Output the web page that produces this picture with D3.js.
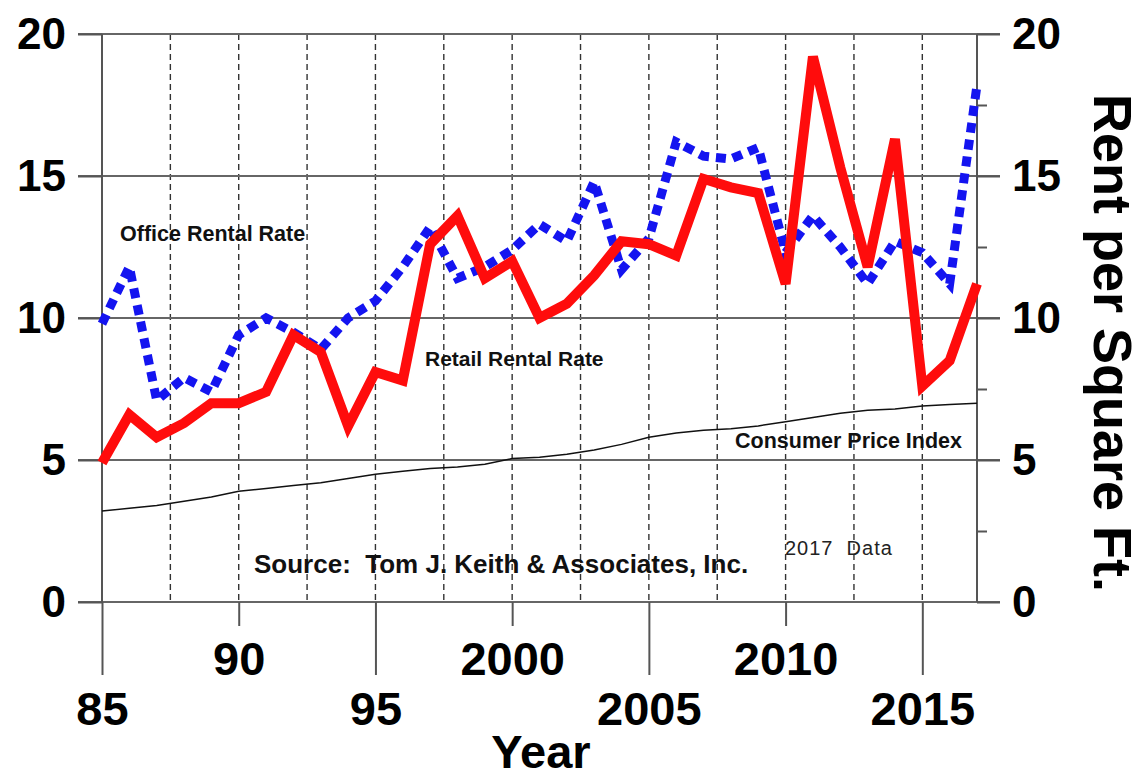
<!DOCTYPE html>
<html>
<head>
<meta charset="utf-8">
<script src="https://cdn.jsdelivr.net/npm/d3@7"></script>
<style>
  body { margin: 0; background: #fff; }
  svg { display: block; font-family: "Liberation Sans", Arial, sans-serif; }
  .tick text { font-weight: bold; fill: #000; }
  .note { font-weight: bold; fill: #111; }
</style>
</head>
<body>
<div id="chart"></div>
<script>
// data
const years = [1985, 1986, 1987, 1988, 1989, 1990, 1991, 1992, 1993, 1994, 1995, 1996, 1997, 1998, 1999, 2000,
               2001, 2002, 2003, 2004, 2005, 2006, 2007, 2008, 2009, 2010, 2011, 2012, 2013, 2014, 2015, 2016, 2017];
const retail = [4.9, 6.6, 5.8, 6.3, 7.0, 7.0, 7.4, 9.4, 8.8, 6.2, 8.1, 7.8, 12.6, 13.6, 11.4, 12.0,
                10.0, 10.5, 11.5, 12.7, 12.6, 12.2, 14.9, 14.6, 14.4, 11.2, 19.2, 15.3, 11.8, 16.3, 7.6, 8.5, 11.2];
const office = [9.8, 11.8, 7.1, 7.9, 7.4, 9.4, 10.0, 9.5, 8.9, 10.0, 10.6, 11.8, 13.2, 11.4, 11.8, 12.4,
                13.3, 12.7, 14.8, 11.7, 12.8, 16.2, 15.7, 15.6, 16.0, 12.3, 13.6, 12.5, 11.2, 12.7, 12.3, 11.2, 18.2];
const cpi = [3.2, 3.3, 3.4, 3.55, 3.7, 3.9, 4.0, 4.1, 4.2, 4.35, 4.5, 4.6, 4.7, 4.75, 4.85, 5.05,
             5.1, 5.2, 5.35, 5.55, 5.8, 5.95, 6.05, 6.1, 6.2, 6.35, 6.5, 6.65, 6.75, 6.8, 6.9, 6.95, 7.0];

const yTicks = [0, 5, 10, 15, 20];
const yMinor = [2.5, 7.5, 12.5, 17.5];
const xLong = [1985, 1995, 2005, 2015];
const xShort = [1990, 2000, 2010];
const dashYears = [1987.5, 1990, 1992.5, 1995, 1997.5, 2000, 2002.5, 2005, 2007.5, 2010, 2012.5, 2015];

let width = 1144,
    height = 778;
let svg = d3.select("div#chart").append("svg")
            .attr("width", width)
            .attr("height", height);

let x = d3.scaleLinear().domain([1985, 2017]).range([102, 977]);
let y = d3.scaleLinear().domain([0, 20]).range([602, 34]);
let yearLabel = function(d) { return d < 2000 ? String(d - 1900) : String(d); };

// dashed vertical grid
svg.append("g").selectAll("line")
  .data(dashYears)
  .enter().append("line")
  .attr("x1", d => x(d)).attr("x2", d => x(d))
  .attr("y1", y(20)).attr("y2", y(0))
  .attr("stroke", "#333")
  .attr("stroke-width", 1.4)
  .attr("stroke-dasharray", "6,4");

// horizontal grid
svg.append("g").selectAll("line")
  .data(yTicks)
  .enter().append("line")
  .attr("x1", 78).attr("x2", 1000)
  .attr("y1", d => y(d)).attr("y2", d => y(d))
  .attr("stroke", "#666")
  .attr("stroke-width", 2);

// frame sides
svg.append("line").attr("x1", x(1985)).attr("x2", x(1985)).attr("y1", y(20)).attr("y2", y(0))
  .attr("stroke", "#555").attr("stroke-width", 2);
svg.append("line").attr("x1", x(2017)).attr("x2", x(2017)).attr("y1", y(20)).attr("y2", y(0))
  .attr("stroke", "#555").attr("stroke-width", 2);

// axes
let leftAxis = svg.append("g").attr("transform", "translate(" + x(1985) + ",0)")
  .call(d3.axisLeft(y).tickValues(yTicks).tickSize(24).tickPadding(12));
let rightAxis = svg.append("g").attr("transform", "translate(" + x(2017) + ",0)")
  .call(d3.axisRight(y).tickValues(yTicks).tickSize(23).tickPadding(12));
let rightMinor = svg.append("g").attr("transform", "translate(" + x(2017) + ",0)")
  .call(d3.axisRight(y).tickValues(yMinor).tickSize(10).tickFormat(""));
let bottomLong = svg.append("g").attr("transform", "translate(0," + y(0) + ")")
  .call(d3.axisBottom(x).tickValues(xLong).tickSize(73).tickPadding(17).tickFormat(yearLabel));
let bottomShort = svg.append("g").attr("transform", "translate(0," + y(0) + ")")
  .call(d3.axisBottom(x).tickValues(xShort).tickSize(24).tickPadding(16).tickFormat(yearLabel));

[leftAxis, rightAxis, rightMinor, bottomLong, bottomShort].forEach(function(g) {
  g.select(".domain").remove();
  g.selectAll(".tick line").attr("stroke", "#555").attr("stroke-width", 2);
});
leftAxis.selectAll("text").style("font-size", "44px");
rightAxis.selectAll("text").style("font-size", "44px");
bottomLong.selectAll("text").style("font-size", "47px");
bottomShort.selectAll("text").style("font-size", "47px");

// series
let line = function(values) {
  return d3.line()
    .x((d, i) => x(years[i]))
    .y(d => y(d))(values);
};

svg.append("path")
  .attr("d", line(cpi))
  .attr("fill", "none")
  .attr("stroke", "#111")
  .attr("stroke-width", 1.5);

svg.append("path")
  .attr("d", line(office))
  .attr("fill", "none")
  .attr("stroke", "#1414f0")
  .attr("stroke-width", 9)
  .attr("stroke-dasharray", "10,7");

svg.append("path")
  .attr("d", line(retail))
  .attr("fill", "none")
  .attr("stroke", "#ff0c0c")
  .attr("stroke-width", 10)
  .attr("stroke-linejoin", "miter");

// annotations
svg.append("text").attr("class", "note").attr("x", 120).attr("y", 241)
  .style("font-size", "21.5px").text("Office Rental Rate");
svg.append("text").attr("class", "note").attr("x", 425).attr("y", 366)
  .style("font-size", "21px").text("Retail Rental Rate");
svg.append("text").attr("class", "note").attr("x", 735).attr("y", 448)
  .style("font-size", "21.5px").text("Consumer Price Index");
svg.append("text").attr("class", "note").attr("x", 254).attr("y", 573)
  .style("font-size", "26px").attr("xml:space", "preserve")
  .text("Source:  Tom J. Keith & Associates, Inc.");
svg.append("text").attr("x", 785).attr("y", 555)
  .style("font-size", "20px").style("letter-spacing", "1px").style("fill", "#222")
  .attr("xml:space", "preserve")
  .text("2017  Data");

// axis titles
svg.append("text")
  .attr("x", 541).attr("y", 768)
  .attr("text-anchor", "middle")
  .style("font-size", "47px").style("font-weight", "bold")
  .text("Year");
svg.append("text")
  .attr("transform", "translate(1094,343) rotate(90)")
  .attr("text-anchor", "middle")
  .style("font-size", "54px").style("font-weight", "bold")
  .text("Rent per Square Ft.");
</script>
</body>
</html>
